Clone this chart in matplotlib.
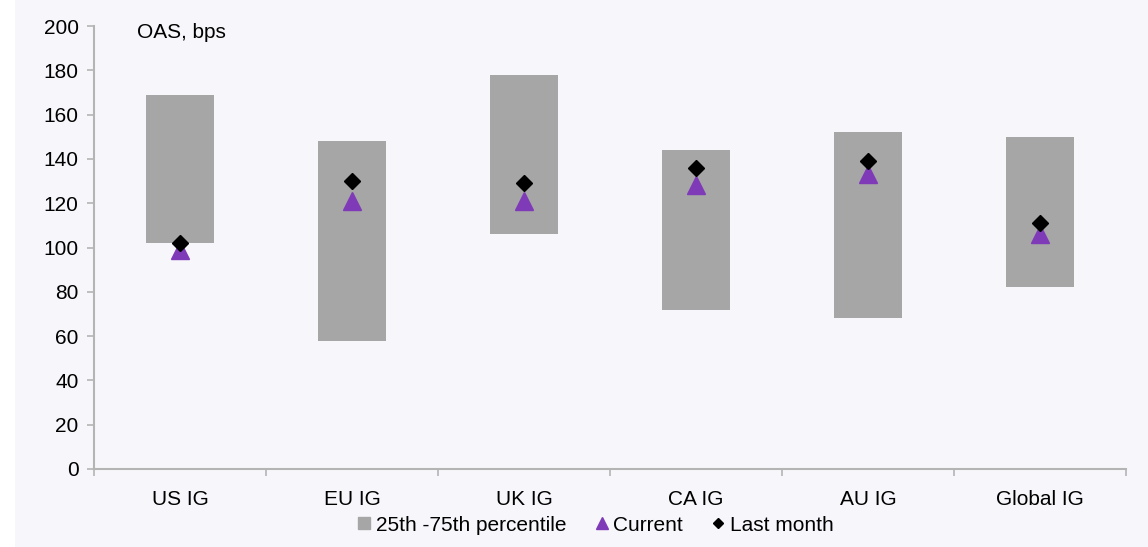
import numpy as np
import matplotlib
matplotlib.use("Agg")
import matplotlib.pyplot as plt
import matplotlib.patches as mpatches
from matplotlib.lines import Line2D

plt.rcParams.update({
    "font.family": ["Liberation Sans", "DejaVu Sans"],
    "font.size": 15,
})

categories = ["US IG", "EU IG", "UK IG", "CA IG", "AU IG", "Global IG"]
p25 = [102, 58, 106, 72, 68, 82]
p75 = [169, 148, 178, 144, 152, 150]
current = [99, 121, 121, 128, 133, 106]
last_month = [102, 130, 129, 136, 139, 111]

BG = "#F7F6FB"
BAR = "#A6A6A6"
PURPLE = "#7F3AB8"
AXC = "#B4B4B4"

fig = plt.figure(figsize=(11.48, 5.47), dpi=100, facecolor=BG)
fig.patches.append(mpatches.Rectangle((0, 0), 15 / 1148, 1, transform=fig.transFigure,
                                      fc="white", ec="none", zorder=-1))
ax = fig.add_axes([94 / 1148, 1 - 469 / 547, (1126 - 94) / 1148, (469 - 26) / 547])
ax.set_facecolor(BG)

x = np.arange(len(categories)) + 0.5
ax.bar(x, np.array(p75) - np.array(p25), bottom=p25, width=0.4, color=BAR, zorder=2)
ax.plot(x, current, ls="none", marker="^", ms=13, color=PURPLE, mec=PURPLE, zorder=3)
ax.plot(x, last_month, ls="none", marker="D", ms=8.5, color="black", zorder=4)

ax.set_xlim(0, len(categories))
ax.set_ylim(0, 200)
ax.set_yticks(np.arange(0, 201, 20))
ax.set_xticks(np.arange(0, len(categories) + 1))
ax.set_xticklabels([])
ax.set_xticks(x, minor=True)
ax.set_xticklabels(categories, minor=True)
ax.tick_params(axis="x", which="minor", length=0, pad=15)
ax.tick_params(axis="x", which="major", length=5, color=AXC, width=1.2)
ax.tick_params(axis="y", length=5, color=AXC, width=1.2, pad=6)
for s in ["top", "right"]:
    ax.spines[s].set_visible(False)
for s in ["left", "bottom"]:
    ax.spines[s].set_color(AXC)
    ax.spines[s].set_linewidth(1.5)

ax.text(0.25, 197, "OAS, bps", ha="left", va="center")

handles = [
    Line2D([], [], ls="none", marker="s", ms=9, color=BAR),
    Line2D([], [], ls="none", marker="^", ms=9, color=PURPLE),
    Line2D([], [], ls="none", marker="D", ms=5.5, color="black"),
]
fig.legend(handles, ["25th -75th percentile", "Current", "Last month"],
           loc="center", bbox_to_anchor=(0.518, 0.04), ncol=3, frameon=False,
           handlelength=0.8, handletextpad=0.15, columnspacing=1.3, borderaxespad=0)

fig.savefig("out.png", dpi=100, facecolor=BG)
